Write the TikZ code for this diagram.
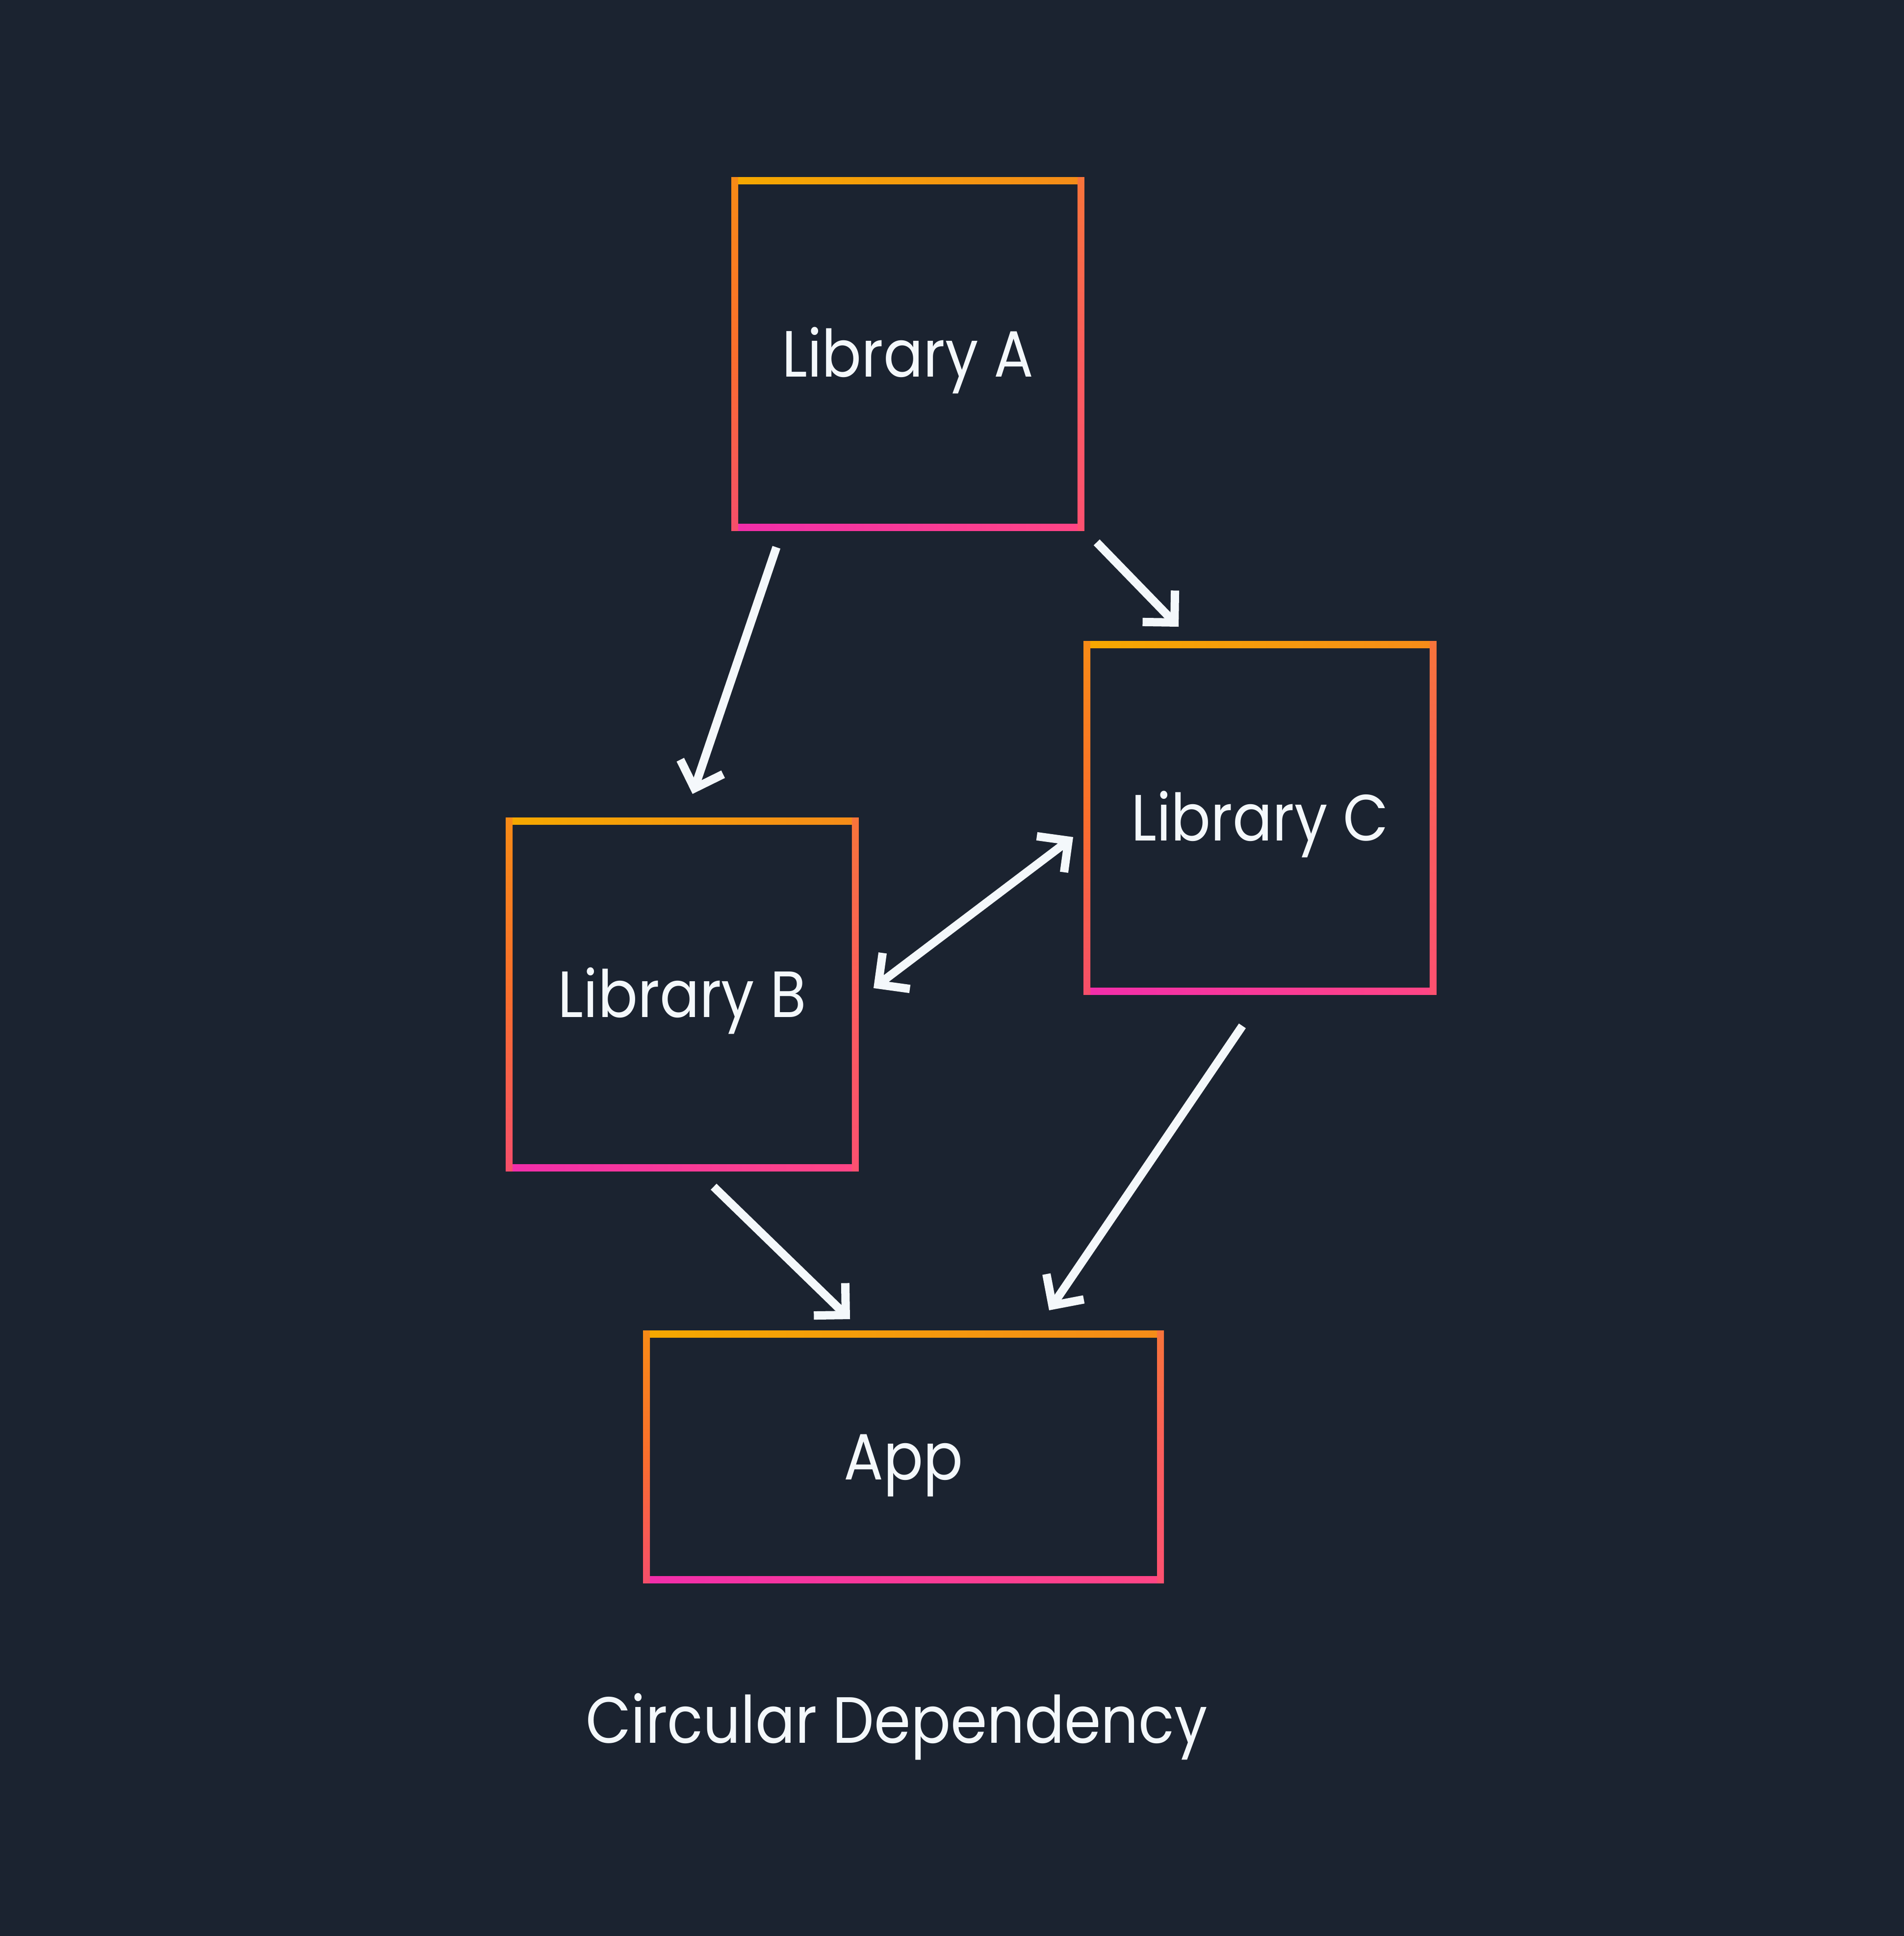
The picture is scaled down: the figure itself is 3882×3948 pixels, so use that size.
\documentclass[tikz,border=0pt]{standalone}
\usepackage{fontspec}
\setmainfont{Poppins}[FakeStretch=0.9]
\usetikzlibrary{arrows.meta}
\definecolor{bg}{HTML}{1B2330}
\definecolor{txt}{HTML}{F4F8FB}
\definecolor{gTL}{HTML}{F5A800}
\definecolor{gML}{HTML}{FA6E2C}
\definecolor{gBL}{HTML}{F22EAA}
\definecolor{gTR}{HTML}{F58C18}
\definecolor{gMR}{HTML}{FB5C5C}
\definecolor{gBR}{HTML}{FF4585}
\pgfdeclareverticalshading{bordL}{100bp}{color(0bp)=(gBL); color(50bp)=(gML); color(100bp)=(gTL)}
\pgfdeclareverticalshading{bordR}{100bp}{color(0bp)=(gBR); color(50bp)=(gMR); color(100bp)=(gTR)}
\newcommand\gframe[1]{%
  % left side
  \shade[shading=bordL]
    ([shift={(-7,-7)}]#1.north west) rectangle ([shift={(7,7)}]#1.south west);
  % right side
  \shade[shading=bordR]
    ([shift={(-7,-7)}]#1.north east) rectangle ([shift={(7,7)}]#1.south east);
  % top side
  \shade[left color=gTL, right color=gTR]
    ([shift={(7,-7)}]#1.north west) rectangle ([shift={(-7,7)}]#1.north east);
  % bottom side
  \shade[left color=gBL, right color=gBR]
    ([shift={(7,-7)}]#1.south west) rectangle ([shift={(-7,7)}]#1.south east);
}
\tikzset{
  lib/.style={inner sep=0pt, minimum width=7.04cm, minimum height=7.06cm,
    text=txt, font=\fontsize{37.9pt}{45pt}\selectfont, text height=0.93cm, text depth=0pt},
  appbox/.style={lib, minimum width=10.46cm, minimum height=5.00cm},
  caption/.style={text=txt, font=\fontsize{37.9pt}{45pt}\selectfont, inner sep=0pt, anchor=base},
  dep/.style={draw=txt, line width=0.17cm,
    -{Straight Barb[sharp, length=0.46cm, width=0.92cm]}},
  dep2/.style={draw=txt, line width=0.17cm,
    {Straight Barb[sharp, length=0.46cm, width=0.92cm]}-{Straight Barb[sharp, length=0.46cm, width=0.92cm]}}
}
\begin{document}
\begin{tikzpicture}[x=0.01cm, y=-0.01cm]
\fill[bg] (0,0) rectangle (3882,3948);
\useasboundingbox (0,0) rectangle (3882,3948);

\node[lib] (A) at (1851,722) {Library A};
\node[lib] (B) at (1391,2028) {Library B};
\node[lib] (C) at (2569,1668) {Library C};
\node[appbox] (App) at (1842,2971) {App};
\gframe{A}
\gframe{B}
\gframe{C}
\gframe{App}

\node[caption] (cap) at (1828,3554) {Circular Dependency};

\coordinate (ab1) at (1583,1116);
\coordinate (ab2) at (1412,1619);
\coordinate (ac1) at (2236,1106);
\coordinate (ac2) at (2403,1278);
\coordinate (bc1) at (1781,2015);
\coordinate (bc2) at (2188,1707);
\coordinate (bp1) at (1455,2420);
\coordinate (bp2) at (1733,2690);
\coordinate (cp1) at (2533,2092);
\coordinate (cp2) at (2139,2672);

\draw[dep] (ab1) -- (ab2);
\draw[dep] (ac1) -- (ac2);
\draw[dep2] (bc1) -- (bc2);
\draw[dep] (bp1) -- (bp2);
\draw[dep] (cp1) -- (cp2);
\end{tikzpicture}
\end{document}
